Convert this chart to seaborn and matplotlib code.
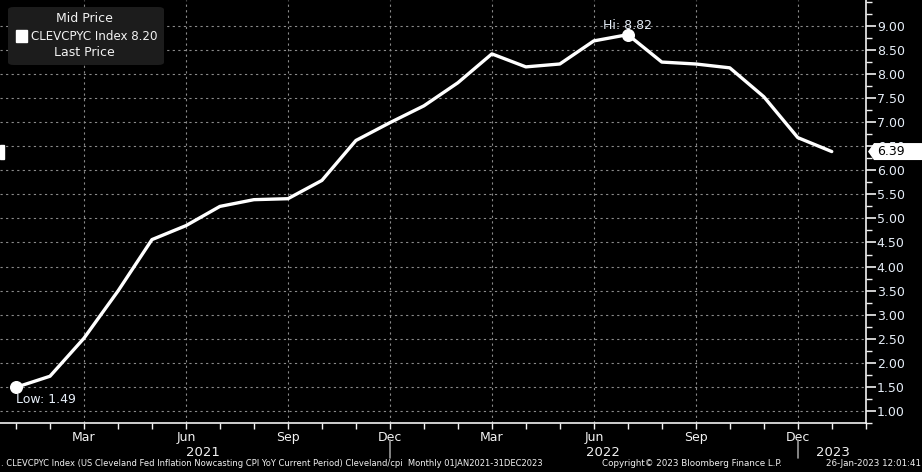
import matplotlib
matplotlib.use("Agg")
import matplotlib.pyplot as plt
import matplotlib.patches as mpatches
import matplotlib.transforms as mtrans
import numpy as np
import pandas as pd
import seaborn as sns

# monthly CLEVCPYC values, Jan 2021 .. Jan 2023
months = ["2021-01", "2021-02", "2021-03", "2021-04", "2021-05", "2021-06",
          "2021-07", "2021-08", "2021-09", "2021-10", "2021-11", "2021-12",
          "2022-01", "2022-02", "2022-03", "2022-04", "2022-05", "2022-06",
          "2022-07", "2022-08", "2022-09", "2022-10", "2022-11", "2022-12",
          "2023-01"]
values = [1.49, 1.72, 2.51, 3.49, 4.56, 4.85, 5.25, 5.39, 5.41, 5.79, 6.62, 6.99,
          7.34, 7.82, 8.42, 8.15, 8.21, 8.69, 8.82, 8.25, 8.21, 8.13, 7.53, 6.68,
          6.39]
quarter_labels = ["Mar", "Jun", "Sep", "Dec", "Mar", "Jun", "Sep", "Dec"]
year_labels = ["2021", "2022", "2023"]
last_price = 6.39
mid_price = 8.20

df = pd.DataFrame({"month": months, "value": values})
df["idx"] = np.arange(len(df))

sns.set_style("dark")
plt.rcParams["font.family"] = ["DejaVu Sans"]
fg = "#f2f2f2"
lab = "#e6eef8"

fig = plt.figure(figsize=(9.22, 4.72), dpi=100, facecolor="black")
ax = fig.add_axes([0.0, 0.104, 0.939, 0.896])
ax.set_facecolor("black")

sns.lineplot(data=df, x="idx", y="value", ax=ax, color="white", linewidth=2.4)

# low / high markers
lo = df["value"].idxmin()
hi = df["value"].idxmax()
ax.scatter([df.idx[lo], df.idx[hi]], [df.value[lo], df.value[hi]], s=70,
           color="white", zorder=5, clip_on=False)
ax.annotate("Low: %.2f" % df.value[lo], (df.idx[lo], df.value[lo]),
            xytext=(0, -4), textcoords="offset points", ha="left", va="top",
            color=lab, fontsize=9)
ax.annotate("Hi: %.2f" % df.value[hi], (df.idx[hi], df.value[hi]),
            xytext=(-18, 2), textcoords="offset points", ha="left", va="bottom",
            color=lab, fontsize=9)

ax.set_xlim(-0.47, 25)
ax.set_ylim(0.77, 9.54)

# x axis: monthly minor ticks, quarterly labels
ax.set_xticks(np.arange(2, 24, 3))
ax.set_xticklabels(quarter_labels)
ax.set_xticks(np.arange(0, 26), minor=True)
ax.tick_params(axis="x", which="both", direction="out", length=4, width=1,
               color=fg, labelcolor=fg, labelsize=9, pad=2, bottom=True)

# y axis on the right (6.50 sits behind the last price tag)
yt = np.arange(1.0, 9.01, 0.5)
ax.yaxis.tick_right()
ax.set_yticks(yt)
ax.set_yticklabels(["%.2f" % v for v in yt])
ax.set_yticks(np.arange(0.75, 9.6, 0.25), minor=True)
ax.tick_params(axis="y", which="major", direction="out", length=7, width=1.2,
               color=fg, labelcolor=lab, labelsize=9, pad=1, right=True)
ax.tick_params(axis="y", which="minor", direction="out", length=4, width=1,
               color=fg, right=True)

ax.grid(True, which="major", color="#8a8a8a", linestyle=(0, (2, 3)), linewidth=0.8)
ax.set_xlabel("")
ax.set_ylabel("")
for s in ["top", "left"]:
    ax.spines[s].set_visible(False)
for s in ["bottom", "right"]:
    ax.spines[s].set_visible(True)
    ax.spines[s].set_color(fg)
    ax.spines[s].set_linewidth(1.2)

# year labels and separators
tr = mtrans.blended_transform_factory(ax.transData, ax.transAxes)
for xpos, yl in zip([5.5, 17.26, 24.03], year_labels):
    ax.text(xpos, -0.071, yl, transform=tr, ha="center", va="center",
            color=fg, fontsize=9.5, clip_on=False)
for xpos in [11, 23]:
    ax.plot([xpos, xpos], [-0.04, -0.082], transform=tr, color="#9a9a9a",
            linewidth=1.2, clip_on=False)

# legend box
leg = mpatches.FancyBboxPatch((8 / 922, 1 - 65 / 472), 156 / 922, 58 / 472,
                              boxstyle="round,pad=0,rounding_size=0.006",
                              transform=fig.transFigure, facecolor="#1c1c1c",
                              edgecolor="none", zorder=10)
fig.patches.append(leg)
fig.text(84 / 922, 1 - 19 / 472, "Mid Price", ha="center", va="center",
         color=fg, fontsize=9, zorder=11)
fig.text(31 / 922, 1 - 36 / 472, "CLEVCPYC Index %.2f" % mid_price, ha="left",
         va="center", color=fg, fontsize=8.6, zorder=11)
fig.patches.append(mpatches.Rectangle((16 / 922, 1 - 42 / 472), 11 / 922, 12 / 472,
                                      transform=fig.transFigure,
                                      facecolor="white", zorder=11))
fig.text(84 / 922, 1 - 52 / 472, "Last Price", ha="center", va="center",
         color=fg, fontsize=9, zorder=11)

# last price tag on the right axis
ypix = ax.transData.transform((0, last_price))[1]
yf = ypix / fig.bbox.height
h = 8.5 / 472
tag = mpatches.Polygon([(868 / 922, yf), (874 / 922, yf + h), (922 / 922, yf + h),
                        (922 / 922, yf - h), (874 / 922, yf - h)],
                       closed=True, transform=fig.transFigure,
                       facecolor="white", edgecolor="none", zorder=10)
fig.patches.append(tag)
fig.text(877 / 922, yf, "%.2f" % last_price, ha="left", va="center",
         color="black", fontsize=9, zorder=11)
fig.patches.append(mpatches.Rectangle((0, yf - 7 / 472), 4 / 922, 14 / 472,
                                      transform=fig.transFigure,
                                      facecolor="white", zorder=10))

# footer
fy = 1 - 464 / 472
fig.text(1 / 922, fy, ". CLEVCPYC Index (US Cleveland Fed Inflation Nowcasting CPI YoY "
         "Current Period) Cleveland/cpi  Monthly 01JAN2021-31DEC2023",
         ha="left", va="center", color=fg, fontsize=6.0)
fig.text(692 / 922, fy, "Copyright\u00a9 2023 Bloomberg Finance L.P.", ha="center",
         va="center", color=fg, fontsize=6.3)
fig.text(921 / 922, fy, "26-Jan-2023 12:01:41", ha="right", va="center",
         color=fg, fontsize=6.3)

fig.savefig("out.png", dpi=100, facecolor="black")
